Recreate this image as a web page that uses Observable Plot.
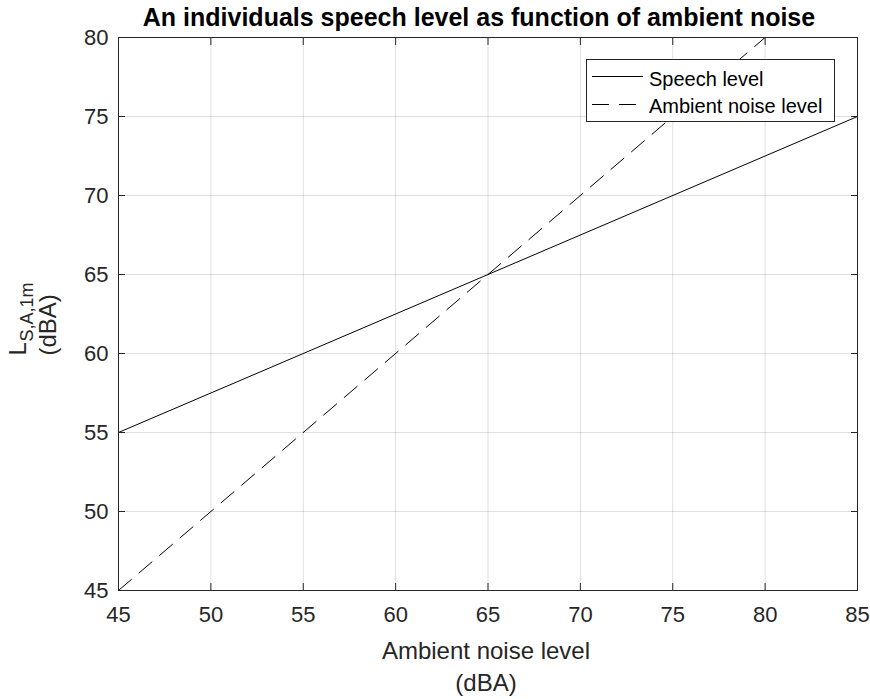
<!DOCTYPE html>
<html><head><meta charset="utf-8">
<script src="https://cdn.jsdelivr.net/npm/d3@7"></script>
<script src="https://cdn.jsdelivr.net/npm/@observablehq/plot@0.6"></script>
<style>
body{margin:0;background:#fff;}
#wrap{position:relative;width:870px;height:699px;font-family:"Liberation Sans",Arial,sans-serif;}
#legend{position:absolute;left:0;top:0;}
</style></head><body><div id="wrap"></div>
<script>
const xTicks = [45, 50, 55, 60, 65, 70, 75, 80, 85];
const yTicks = [45, 50, 55, 60, 65, 70, 75, 80];
const ambientX = [45, 85];
const speechLevel = [55, 75];
const noiseLevel = [45, 85];
const seriesNames = ["Speech level", "Ambient noise level"];
const titleText = "An individuals speech level as function of ambient noise";
const xLabel = ["Ambient noise level", "(dBA)"];

const speechData = ambientX.map((x, i) => ({x, y: speechLevel[i]}));
const noiseData = ambientX.map((x, i) => ({x, y: noiseLevel[i]}));
const dash = "17,10";
const font = "Liberation Sans, Arial, sans-serif";

const chart = Plot.plot({
  width: 870, height: 699,
  marginLeft: 118, marginRight: 13, marginTop: 37, marginBottom: 109,
  style: {fontFamily: font, fontSize: "22px", color: "#262626", background: "#fff"},
  x: {domain: [45, 85]},
  y: {domain: [45, 80]},
  marks: [
    Plot.gridX(xTicks, {stroke: "#262626", strokeOpacity: 0.15}),
    Plot.gridY(yTicks, {stroke: "#262626", strokeOpacity: 0.15}),
    Plot.line(speechData, {x: "x", y: "y", stroke: "#000", strokeWidth: 1}),
    Plot.line(noiseData, {x: "x", y: "y", stroke: "#000", strokeWidth: 1, strokeDasharray: dash, clip: true}),
    Plot.frame({stroke: "#262626"}),
    Plot.axisX(xTicks, {anchor: "bottom", tickSize: 0, tickPadding: 16, fontSize: 22, label: null}),
    Plot.axisX(xTicks, {anchor: "bottom", tickSize: -7, tickFormat: () => "", label: null}),
    Plot.axisX(xTicks, {anchor: "top", tickSize: -7, tickFormat: () => "", label: null}),
    Plot.axisY(yTicks, {anchor: "left", tickSize: 0, tickPadding: 10, fontSize: 22, label: null}),
    Plot.axisY(yTicks, {anchor: "left", tickSize: -7, tickFormat: () => "", label: null}),
    Plot.axisY(yTicks, {anchor: "right", tickSize: -7, tickFormat: () => "", label: null}),
    Plot.text([titleText], {text: d => d, frameAnchor: "top", lineAnchor: "bottom", dy: -12, dx: -9, fontSize: 25, fontWeight: "bold", fill: "#000"}),
    Plot.text([xLabel[0]], {text: d => d, frameAnchor: "bottom", lineAnchor: "bottom", dy: 68, dx: -2, fontSize: 24, fill: "#262626"}),
    Plot.text([xLabel[1]], {text: d => d, frameAnchor: "bottom", lineAnchor: "bottom", dy: 100, dx: -2, fontSize: 24, fill: "#262626"}),
    Plot.text(["L"], {text: d => d, frameAnchor: "left", rotate: -90, textAnchor: "start", lineAnchor: "bottom", dx: -93, dy: 41.5, fontSize: 24, fill: "#262626"}),
    Plot.text(["S,A,1m"], {text: d => d, frameAnchor: "left", rotate: -90, textAnchor: "start", lineAnchor: "bottom", dx: -86, dy: 27.5, fontSize: 18, fill: "#262626"}),
    Plot.text(["(dBA)"], {text: d => d, frameAnchor: "left", rotate: -90, textAnchor: "start", lineAnchor: "bottom", dx: -63, dy: 41.5, fontSize: 24, fill: "#262626"})
  ]
});
const wrap = document.getElementById("wrap");
wrap.appendChild(chart);

// legend overlay
const lg = d3.select(wrap).append("svg").attr("id", "legend").attr("width", 870).attr("height", 699)
  .style("pointer-events", "none");
lg.append("rect").attr("x", 586.5).attr("y", 59.5).attr("width", 248).attr("height", 62)
  .attr("fill", "#fff").attr("stroke", "#262626");
const rows = [{y: 76, base: 86, dash: null}, {y: 104, base: 113, dash: dash}];
seriesNames.forEach((name, i) => {
  const r = rows[i];
  lg.append("line").attr("x1", 592).attr("x2", 643).attr("y1", r.y + 0.5).attr("y2", r.y + 0.5)
    .attr("stroke", "#000").attr("stroke-dasharray", r.dash);
  lg.append("text").attr("x", 649).attr("y", r.base).attr("font-family", font).attr("font-size", 20)
    .attr("fill", "#000").text(name);
});
</script></body></html>
